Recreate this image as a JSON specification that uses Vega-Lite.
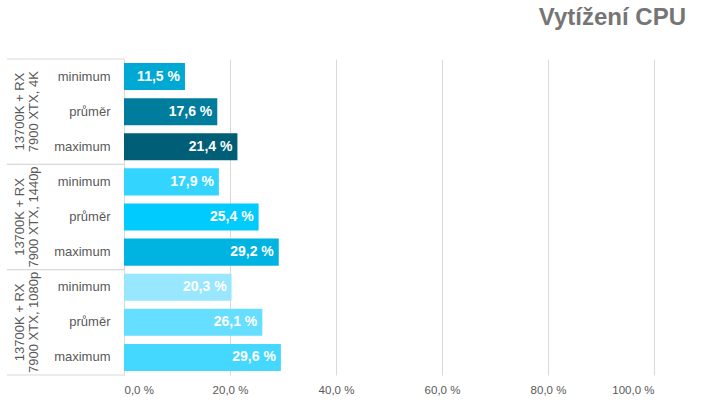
{
  "$schema": "https://vega.github.io/schema/vega-lite/v6.json",
  "width": 530,
  "height": 316,
  "autosize": {"type": "none"},
  "padding": {"left": 124, "top": 59, "right": 66, "bottom": 30},
  "background": "white",
  "title": {
    "text": "Vytížení CPU",
    "anchor": "end",
    "frame": "group",
    "dx": 32,
    "offset": 29,
    "fontSize": 24,
    "fontWeight": "bold",
    "color": "#757575",
    "font": "Liberation Sans"
  },
  "data": {
    "values": [
      {"group": "13700K + RX|7900 XTX, 4K", "metric": "minimum", "row": "1|minimum", "value": 11.5},
      {"group": "13700K + RX|7900 XTX, 4K", "metric": "průměr", "row": "1|průměr", "value": 17.6},
      {"group": "13700K + RX|7900 XTX, 4K", "metric": "maximum", "row": "1|maximum", "value": 21.4},
      {"group": "13700K + RX|7900 XTX, 1440p", "metric": "minimum", "row": "2|minimum", "value": 17.9},
      {"group": "13700K + RX|7900 XTX, 1440p", "metric": "průměr", "row": "2|průměr", "value": 25.4},
      {"group": "13700K + RX|7900 XTX, 1440p", "metric": "maximum", "row": "2|maximum", "value": 29.2},
      {"group": "13700K + RX|7900 XTX, 1080p", "metric": "minimum", "row": "3|minimum", "value": 20.3},
      {"group": "13700K + RX|7900 XTX, 1080p", "metric": "průměr", "row": "3|průměr", "value": 26.1},
      {"group": "13700K + RX|7900 XTX, 1080p", "metric": "maximum", "row": "3|maximum", "value": 29.6}
    ]
  },
  "encoding": {
    "y": {
      "field": "row",
      "type": "nominal",
      "scale": {
        "domain": ["1|minimum", "1|průměr", "1|maximum", "2|minimum", "2|průměr", "2|maximum", "3|minimum", "3|průměr", "3|maximum"],
        "paddingInner": 0,
        "paddingOuter": 0
      },
      "axis": {
        "title": null,
        "labelExpr": "split(datum.value, '|')[1]",
        "labelFont": "Liberation Sans",
        "labelFontSize": 13,
        "labelColor": "#595959",
        "labelPadding": 14,
        "ticks": false,
        "grid": false,
        "domain": true,
        "domainColor": "#d9d9d9",
        "domainWidth": 1
      }
    }
  },
  "layer": [
    {
      "mark": {"type": "bar", "height": {"band": 0.77}},
      "encoding": {
        "x": {
          "field": "value",
          "type": "quantitative",
          "scale": {"domain": [0, 100], "nice": false},
          "axis": {
            "title": null,
            "values": [0, 20, 40, 60, 80, 100],
            "labelExpr": "replace(format(datum.value, '.1f'), '.', ',') + ' %'",
            "labelFont": "Liberation Sans",
            "labelFontSize": 11.5,
            "labelColor": "#595959",
            "labelPadding": 9,
            "ticks": false,
            "domain": false,
            "grid": true,
            "gridColor": "#d9d9d9",
            "gridWidth": 1
          }
        },
        "color": {
          "field": "row",
          "type": "nominal",
          "scale": {
            "domain": ["1|minimum", "1|průměr", "1|maximum", "2|minimum", "2|průměr", "2|maximum", "3|minimum", "3|průměr", "3|maximum"],
            "range": ["#00A8D4", "#007C9D", "#005E77", "#33D5FF", "#00CBFF", "#00B4E2", "#99E7FF", "#66DEFF", "#45D8FF"]
          },
          "legend": null
        }
      }
    },
    {
      "mark": {
        "type": "text",
        "align": "right",
        "baseline": "middle",
        "dx": -5,
        "color": "white",
        "fontWeight": "bold",
        "fontSize": 14,
        "font": "Liberation Sans",
        "text": {"expr": "replace(format(datum.value, '.1f'), '.', ',') + ' %'"}
      },
      "encoding": {
        "x": {"field": "value", "type": "quantitative"}
      }
    },
    {
      "transform": [{"filter": "datum.metric == 'minimum'"}],
      "mark": {"type": "rule", "color": "#d9d9d9", "strokeWidth": 1},
      "encoding": {
        "y": {"field": "row", "type": "nominal", "bandPosition": 0},
        "x": {"datum": -22.1, "type": "quantitative"},
        "x2": {"datum": 0}
      }
    },
    {
      "transform": [{"filter": "datum.metric == 'maximum'"}],
      "mark": {"type": "rule", "color": "#d9d9d9", "strokeWidth": 1},
      "encoding": {
        "y": {"field": "row", "type": "nominal", "bandPosition": 1},
        "x": {"datum": -22.1, "type": "quantitative"},
        "x2": {"datum": 0}
      }
    },
    {
      "transform": [{"filter": "datum.metric == 'průměr'"}],
      "mark": {
        "type": "text",
        "angle": 270,
        "align": "center",
        "baseline": "middle",
        "lineBreak": "|",
        "lineHeight": 14,
        "fontSize": 13,
        "font": "Liberation Sans",
        "color": "#595959"
      },
      "encoding": {
        "y": {"field": "row", "type": "nominal"},
        "x": {"datum": -19.7, "type": "quantitative"},
        "text": {"field": "group"}
      }
    }
  ],
  "config": {
    "view": {"stroke": null}
  }
}
